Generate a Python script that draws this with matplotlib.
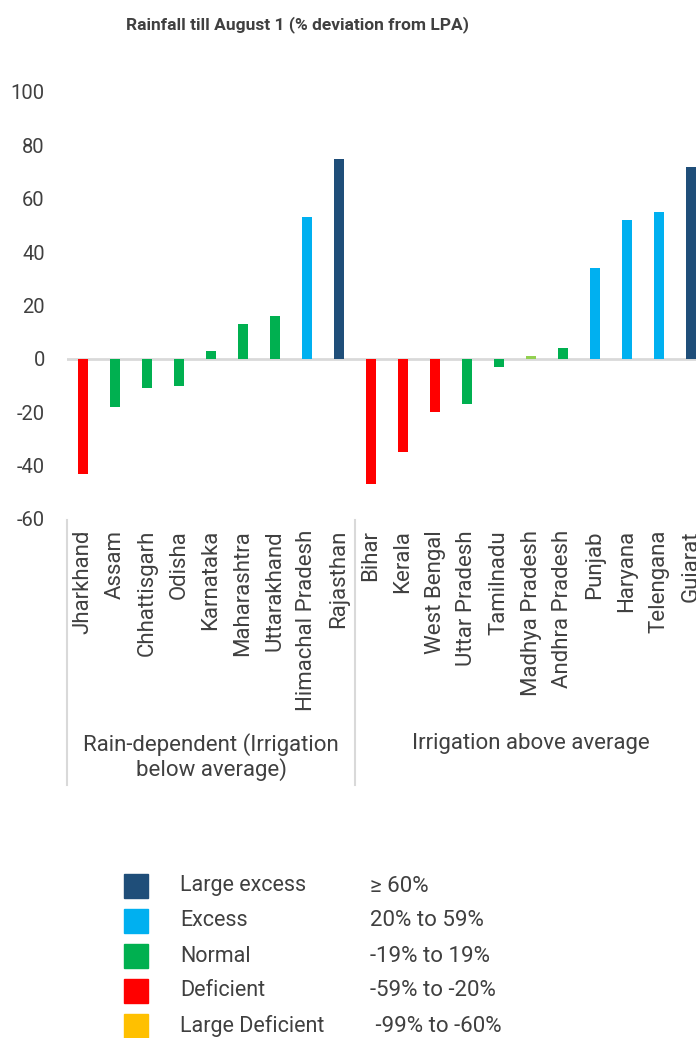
import numpy as np
import matplotlib.pyplot as plt
from matplotlib.patches import Rectangle
from matplotlib.lines import Line2D
import matplotlib.transforms as mtransforms

plt.rcParams['font.family'] = ['Roboto', 'DejaVu Sans']
plt.rcParams['axes.unicode_minus'] = False

# rainfall till August 1, % deviation from LPA
rain_dependent = ["Jharkhand", "Assam", "Chhattisgarh", "Odisha", "Karnataka",
                  "Maharashtra", "Uttarakhand", "Himachal Pradesh", "Rajasthan"]
rain_dependent_dev = [-43, -18, -11, -10, 3, 13, 16, 53, 75]

irrigated = ["Bihar", "Kerala", "West Bengal", "Uttar Pradesh", "Tamilnadu",
             "Madhya Pradesh", "Andhra Pradesh", "Punjab", "Haryana",
             "Telengana", "Gujarat"]
irrigated_dev = [-47, -35, -20, -17, -3, 1, 4, 34, 52, 55, 72]

groups = ["Rain-dependent (Irrigation\nbelow average)", "Irrigation above average"]

legend_names = ["Large excess", "Excess", "Normal", "Deficient", "Large Deficient"]
legend_ranges = ["\u2265 60%", "20% to 59%", "-19% to 19%", "-59% to -20%", " -99% to -60%"]
legend_colors = ["#1F4E79", "#00B0F0", "#00B050", "#FF0000", "#FFC000"]

states = rain_dependent + irrigated
values = rain_dependent_dev + irrigated_dev


def band_color(v, name):
    if name == "Madhya Pradesh":
        return "#92D050"
    if v >= 60:
        return legend_colors[0]
    if v >= 20:
        return legend_colors[1]
    if v > -20:
        return legend_colors[2]
    if v > -60:
        return legend_colors[3]
    return legend_colors[4]


W, H = 696, 1038
fig = plt.figure(figsize=(W / 100, H / 100), dpi=100)
ax = fig.add_axes([67 / W, 1 - 519 / H, 640 / W, 427 / H])

x = np.arange(len(states))
colors = [band_color(v, s) for v, s in zip(values, states)]
ax.bar(x, values, width=0.34, color=colors, zorder=2)
ax.axhline(0, color="#D9D9D9", lw=2, zorder=1)

ax.set_xlim(-0.5, len(states) - 0.5)
ax.set_ylim(-60, 100)
ax.set_yticks(range(-60, 101, 20))
ax.set_xticks(x)
ax.set_xticklabels(states, rotation=90, fontsize=16, color="#404040")
ax.tick_params(axis="x", length=0, pad=8)
ax.tick_params(axis="y", length=0, pad=16, labelsize=14.5, labelcolor="#404040")
for sp in ax.spines.values():
    sp.set_visible(False)

# group separators and group captions under the category labels
trans = mtransforms.blended_transform_factory(ax.transData, fig.transFigure)
for xs in [-0.5, len(rain_dependent) - 0.5, len(states) - 0.5]:
    ax.add_line(Line2D([xs, xs], [1 - 520 / H, 1 - 785 / H], transform=trans,
                       color="#D9D9D9", lw=1.5, clip_on=False))
ax.text((len(rain_dependent) - 1) / 2, 1 - 757 / H, groups[0], transform=trans,
        ha="center", va="center", fontsize=16, color="#404040", linespacing=1.15)
ax.text(len(rain_dependent) + (len(irrigated) - 1) / 2, 1 - 743 / H, groups[1],
        transform=trans, ha="center", va="center", fontsize=16, color="#404040")

fig.text(297 / W, 1 - 25 / H, "Rainfall till August 1 (% deviation from LPA)",
         ha="center", va="center", fontsize=12.5, fontweight="bold", color="#404040")

# legend
for i, (name, rng, c) in enumerate(zip(legend_names, legend_ranges, legend_colors)):
    yc = 886 + 35 * i
    fig.patches.append(Rectangle((124 / W, 1 - (yc + 12) / H), 24 / W, 24 / H,
                                 transform=fig.transFigure, color=c))
    fig.text(180 / W, 1 - yc / H, name, ha="left", va="center", fontsize=15.5, color="#404040")
    fig.text(370 / W, 1 - yc / H, rng, ha="left", va="center", fontsize=16, color="#404040")

fig.savefig("out.png", dpi=100)
